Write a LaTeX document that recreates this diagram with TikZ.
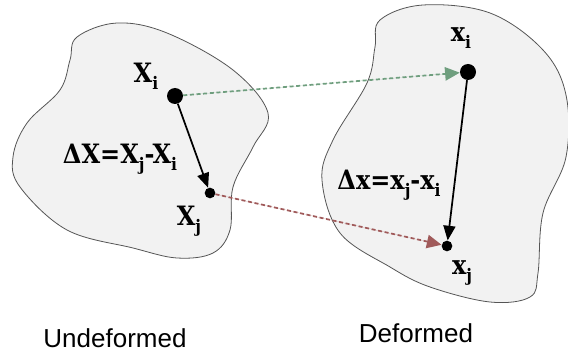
\documentclass[tikz,border=0pt]{standalone}
\usepackage{fontspec}
\setmainfont{Liberation Sans}
\newfontfamily\slabfont{DejaVu Serif Condensed}
\usetikzlibrary{arrows.meta}
\definecolor{blobfill}{HTML}{F2F2F2}
\definecolor{blobline}{HTML}{555555}
\definecolor{mapgreen}{HTML}{6F9E7E}
\definecolor{mapred}{HTML}{A05A5A}
\newcommand{\lsub}[1]{\raisebox{-0.5ex}{\fontsize{13}{13}\selectfont #1}}
\tikzset{
  blob/.style={fill=blobfill, draw=blobline, line width=0.6pt},
  bigdot/.style={circle, fill=black, inner sep=0pt, minimum size=12pt},
  smalldot/.style={circle, fill=black, inner sep=0pt, minimum size=8pt},
  vec/.style={-{Triangle[length=11pt,width=9pt]}, line width=1.3pt, black},
  mapline/.style={dashed, dash pattern=on 3pt off 2pt, line width=1.3pt, -{Triangle[length=11pt,width=10pt]}},
  lab/.style={font=\slabfont\bfseries\fontsize{20}{20}\selectfont, inner sep=0pt},
  captext/.style={font=\fontsize{19.5}{19.5}\selectfont, inner sep=0pt}
}
\begin{document}
\begin{tikzpicture}[x=0.75pt,y=-0.75pt]
\useasboundingbox (0,0) rectangle (568,356);
% undeformed blob
\draw[blob] plot[smooth cycle, tension=0.6] coordinates {
 (77,37) (117,23) (167,33) (233,70) (268,113) (253,147) (233,187)
 (230,230) (213,253) (177,258) (133,248) (67,230) (20,187) (13,157)
 (27,123) (60,90) (70,60)};
% deformed blob
\draw[blob] plot[smooth cycle, tension=0.6] coordinates {
 (380,20) (423,5) (490,13) (543,50) (566,95) (566,157) (543,213)
 (538,273) (530,297) (490,302) (430,287) (390,267) (340,233)
 (322,180) (333,140) (367,83) (375,47)};
\node[bigdot] (Xi) at (175,96) {};
\node[smalldot] (Xj) at (210,193) {};
\node[bigdot] (xi) at (468,72) {};
\node[smalldot] (xj) at (447,246) {};
\draw[vec] (Xi) -- (Xj);
\draw[vec] (xi) -- (xj);
\draw[mapline, draw=mapgreen, fill=mapgreen] (Xi) -- (xi);
\draw[mapline, draw=mapred, fill=mapred] (Xj) -- (xj);
\node[lab] (lXi) at (146,76) {X\lsub{i}};
\node[lab] (lXj) at (189,221) {X\lsub{j}};
\node[lab] (dX) at (120,159) {ΔX=X\lsub{j}-X\lsub{i}};
\node[lab] (lxi) at (461,38) {x\lsub{i}};
\node[lab] (lxj) at (462,273) {x\lsub{j}};
\node[lab] (dx) at (389,185) {Δx=x\lsub{j}-x\lsub{i}};
\node[captext] (u) at (115,338) {Undeformed};
\node[captext] (d) at (416,333) {Deformed};
\end{tikzpicture}
\end{document}
